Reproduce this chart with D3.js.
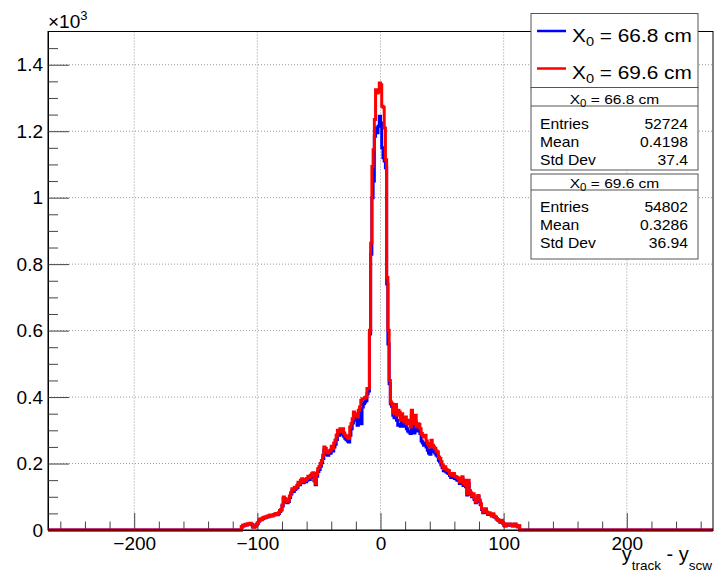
<!DOCTYPE html>
<html lang="en">

<head>
  <meta charset="utf-8">
  <title>y_track - y_scw</title>
  <script src="https://d3js.org/d3.v7.min.js"></script>
  <style>
    body { margin: 0; background: #fff; }
    svg { display: block; font-family: "Liberation Sans", Arial, sans-serif; }
    text { white-space: pre; }
  </style>
</head>

<body>
  <div id="chart"></div>

  <script type="text/javascript">
    "use strict"

    /*
     * Data: two histograms, 1 unit bins, first non-empty bin starts at -113
     */
    var xMin = -270, xMax = 270, yMax = 1500;
    var larguraBin = 1, primeiroBin = -113;

    var contagensAzul = [
      9, 12, 14, 15, 16, 17, 17, 18, 16, 10,
      9, 12, 16, 20, 27, 31, 32, 34, 36, 38,
      38, 40, 41, 43, 42, 44, 45, 46, 48, 47,
      50, 56, 60, 72, 94, 92, 84, 82, 86, 98,
      108, 118, 116, 122, 124, 128, 138, 136, 142, 148,
      142, 146, 145, 150, 154, 152, 158, 162, 165, 148,
      136, 162, 176, 182, 192, 202, 215, 240, 236, 228,
      225, 230, 232, 242, 238, 250, 258, 272, 288, 285,
      292, 288, 294, 282, 276, 272, 268, 265, 285, 305,
      322, 340, 336, 330, 315, 340, 352, 320, 370, 380,
      385, 390, 410, 418, 590, 830, 1000, 1050, 1185, 1210,
      1195, 1215, 1245, 1225, 1150, 1120, 1110, 1090, 740, 560,
      440, 380, 372, 345, 338, 365, 330, 315, 318, 312,
      335, 322, 312, 325, 305, 298, 295, 290, 345, 300,
      292, 325, 298, 305, 300, 290, 268, 262, 255, 262,
      250, 240, 232, 228, 255, 240, 236, 232, 226, 222,
      210, 205, 196, 188, 178, 184, 175, 172, 170, 164,
      158, 162, 165, 155, 154, 150, 150, 140, 146, 154,
      134, 144, 130, 105, 140, 114, 108, 100, 104, 92,
      82, 86, 100, 86, 76, 62, 52, 58, 60, 52,
      47, 50, 47, 42, 47, 40, 38, 33, 30, 28,
      23, 27, 21, 15, 12, 17, 15, 14, 17, 14,
      12, 16, 17, 13, 10, 12
    ];

    var contagensVermelho = [
      10, 14, 13, 17, 15, 19, 18, 20, 17, 9,
      8, 12, 17, 22, 28, 33, 31, 36, 38, 37,
      40, 42, 40, 45, 44, 43, 47, 48, 50, 46,
      52, 59, 62, 75, 99, 95, 92, 86, 89, 102,
      112, 124, 120, 129, 126, 134, 144, 140, 150, 154,
      146, 152, 149, 155, 162, 159, 165, 169, 172, 150,
      139, 170, 184, 190, 200, 209, 225, 250, 245, 235,
      232, 238, 240, 252, 245, 262, 270, 285, 300, 296,
      305, 298, 305, 292, 285, 282, 278, 275, 310, 320,
      335, 355, 350, 345, 340, 360, 370, 390, 395, 395,
      398, 400, 426, 426, 601, 863, 1094, 1144, 1235, 1325,
      1315, 1318, 1345, 1340, 1275, 1272, 1210, 1114, 760, 601,
      450, 385, 380, 355, 350, 378, 345, 360, 355, 330,
      350, 335, 325, 340, 320, 330, 325, 310, 360, 322,
      320, 345, 310, 320, 318, 305, 290, 285, 280, 285,
      268, 260, 255, 250, 270, 255, 250, 245, 238, 235,
      220, 215, 205, 195, 185, 190, 182, 180, 178, 170,
      165, 168, 170, 162, 160, 158, 155, 145, 152, 160,
      139, 150, 135, 109, 150, 119, 112, 104, 109, 95,
      84, 89, 104, 90, 79, 64, 54, 60, 64, 54,
      49, 52, 49, 44, 49, 42, 39, 34, 31, 29,
      24, 29, 22, 15, 13, 18, 16, 15, 18, 15,
      13, 17, 18, 14, 10, 13
    ];

    var xMaior = [-200, -100, 0, 100, 200];
    var xMenor = [-260, -240, -220, -180, -160, -140, -120, -80, -60, -40, -20,
                  20, 40, 60, 80, 120, 140, 160, 180, 220, 240, 260];
    var xRotulos = ["\u2212200", "\u2212100", "0", "100", "200"];

    var yMaior = [0, 200, 400, 600, 800, 1000, 1200, 1400];
    var yRotulos = ["0", "0.2", "0.4", "0.6", "0.8", "1", "1.2", "1.4"];
    var yMenor = [50, 100, 150, 250, 300, 350, 450, 500, 550, 650, 700, 750,
                  850, 900, 950, 1050, 1100, 1150, 1250, 1300, 1350, 1450];

    var nomesSeries = ["66.8 cm", "69.6 cm"];
    var coresSeries = ["#0000ff", "#ff0000"];
    var statsEntries = ["52724", "54802"];
    var statsMean = ["0.4198", "0.3286"];
    var statsStd = ["37.4", "36.94"];

    var alturaSVG = 576, larguraSVG = 714;
    var margin = {top: 31.5, right: 1, bottom: 46, left: 48},
        larguraVis = larguraSVG - margin.left - margin.right,
        alturaVis = alturaSVG - margin.top - margin.bottom;

    var svg = d3.select('#chart')
      .append('svg')
        .attr('width', larguraSVG)
        .attr('height', alturaSVG);

    var grafico = svg.append('g')
        .attr('transform', 'translate(' + margin.left + ',' + margin.top + ')');

    /*
     * Scales
     */
    var x = d3.scaleLinear().domain([xMin, xMax]).range([0, larguraVis]);
    var y = d3.scaleLinear().domain([0, yMax]).range([alturaVis, 0]);

    /*
     * Grid (dotted)
     */
    grafico.append('g').selectAll('line')
      .data(xMaior)
      .enter().append('line')
        .attr('x1', d => x(d)).attr('x2', d => x(d))
        .attr('y1', 0).attr('y2', alturaVis)
        .attr('stroke', '#999').attr('stroke-dasharray', '1,2');

    grafico.append('g').selectAll('line')
      .data(yMaior.filter(d => d > 0))
      .enter().append('line')
        .attr('x1', 0).attr('x2', larguraVis)
        .attr('y1', d => y(d)).attr('y2', d => y(d))
        .attr('stroke', '#999').attr('stroke-dasharray', '1,2');

    /*
     * Axes (ROOT style: ticks inside the frame)
     */
    grafico.append('g')
      .call(d3.axisLeft(y).tickValues(yMaior).tickSizeInner(-21).tickSizeOuter(0)
              .tickPadding(5).tickFormat((d, i) => yRotulos[i]));
    grafico.append('g')
      .call(d3.axisLeft(y).tickValues(yMenor).tickSizeInner(-10).tickSizeOuter(0).tickFormat(''))
      .select('.domain').remove();

    grafico.append('g')
      .attr('transform', 'translate(0,' + alturaVis + ')')
      .call(d3.axisBottom(x).tickValues(xMaior).tickSizeInner(-17).tickSizeOuter(0)
              .tickPadding(7).tickFormat((d, i) => xRotulos[i]));
    grafico.append('g')
      .attr('transform', 'translate(0,' + alturaVis + ')')
      .call(d3.axisBottom(x).tickValues(xMenor).tickSizeInner(-8.5).tickSizeOuter(0).tickFormat(''))
      .select('.domain').remove();

    grafico.selectAll('.tick line').attr('stroke', '#444');
    grafico.selectAll('.tick text')
      .attr('fill', '#000')
      .style('font-size', '19px')
      .style('font-family', '"Liberation Sans", Arial, sans-serif');

    /*
     * Histograms as step lines
     */
    function passos(contagens) {
      var pts = [[xMin, 0]];
      contagens.forEach((c, i) => pts.push([primeiroBin + i * larguraBin, c]));
      pts.push([primeiroBin + contagens.length * larguraBin, 0]);
      pts.push([xMax, 0]);
      return pts;
    }

    var linha = d3.line()
      .x(d => x(d[0]))
      .y(d => y(d[1]))
      .curve(d3.curveStepAfter);

    grafico.append('clipPath').attr('id', 'clip')
      .append('rect').attr('x', 0).attr('y', -2).attr('width', larguraVis).attr('height', alturaVis + 4);

    [contagensAzul, contagensVermelho].forEach(function(contagens, i) {
      grafico.append('path')
        .attr('clip-path', 'url(#clip)')
        .attr('d', linha(passos(contagens)))
        .attr('fill', 'none')
        .attr('stroke', coresSeries[i])
        .attr('stroke-width', 3);
    });

    // frame
    grafico.append('rect')
      .attr('width', larguraVis).attr('height', alturaVis)
      .attr('fill', 'none').attr('stroke', '#000').attr('stroke-width', 1);

    /*
     * Axis titles
     */
    var mult = svg.append('text').attr('x', 48).attr('y', 28).style('font-size', '19px');
    mult.append('tspan').text('\u00d710');
    mult.append('tspan').attr('dy', -8).style('font-size', '13px').text('3');

    var titX = svg.append('text').attr('x', 712).attr('y', 561)
      .attr('text-anchor', 'end').style('font-size', '20px');
    titX.append('tspan').text('y');
    titX.append('tspan').attr('dy', 9).style('font-size', '13.5px').text('track');
    titX.append('tspan').attr('dy', -9).text(' - y');
    titX.append('tspan').attr('dy', 9).style('font-size', '13.5px').text('scw');

    // ROOT text in the boxes is a bit wider than Liberation Sans: stretch it a little
    function texto(g, px, py, ancora, tamanho, sx) {
      return g.append('text')
        .attr('transform', 'translate(' + px + ',' + py + ') scale(' + sx + ',1)')
        .attr('text-anchor', ancora)
        .style('font-size', tamanho + 'px');
    }

    /*
     * Legend
     */
    var leg = svg.append('g');
    leg.append('rect')
      .attr('x', 531).attr('y', 13.5).attr('width', 167).attr('height', 74.5)
      .attr('fill', '#fff').attr('stroke', '#555');

    nomesSeries.forEach(function(nome, i) {
      var yy = 31 + i * 37.5;
      leg.append('line')
        .attr('x1', 537).attr('x2', 566).attr('y1', yy).attr('y2', yy)
        .attr('stroke', coresSeries[i]).attr('stroke-width', 2.5);
      var t = texto(leg, 572, yy + 10.5, 'start', 18.6, 1.12);
      t.append('tspan').text('X');
      t.append('tspan').attr('dy', 4).style('font-size', '13px').text('0');
      t.append('tspan').attr('dy', -4).text(' = ' + nome);
    });

    /*
     * Stats boxes
     */
    var caixas = [{top: 87.5, bottom: 170, sep: 106, linha0: 129},
                  {top: 174, bottom: 259, sep: 190, linha0: 212}];
    caixas.forEach(function(cx, i) {
      var g = svg.append('g');
      g.append('rect')
        .attr('x', 531).attr('y', cx.top).attr('width', 167).attr('height', cx.bottom - cx.top)
        .attr('fill', '#fff').attr('stroke', '#555');
      g.append('line')
        .attr('x1', 531).attr('x2', 698).attr('y1', cx.sep).attr('y2', cx.sep)
        .attr('stroke', '#555');
      var h = texto(g, 614.5, cx.sep - 2, 'middle', 13.5, 1.15);
      h.append('tspan').text('X');
      h.append('tspan').attr('dy', 3).style('font-size', '10px').text('0');
      h.append('tspan').attr('dy', -3).text(' = ' + nomesSeries[i]);

      var linhas = [["Entries", statsEntries[i]], ["Mean", statsMean[i]], ["Std Dev", statsStd[i]]];
      linhas.forEach(function(l, j) {
        var yy = cx.linha0 + j * 18.2;
        texto(g, 540, yy, 'start', 14, 1.12).text(l[0]);
        texto(g, 688, yy, 'end', 14, 1.12).text(l[1]);
      });
    });
  </script>
</body>

</html>
